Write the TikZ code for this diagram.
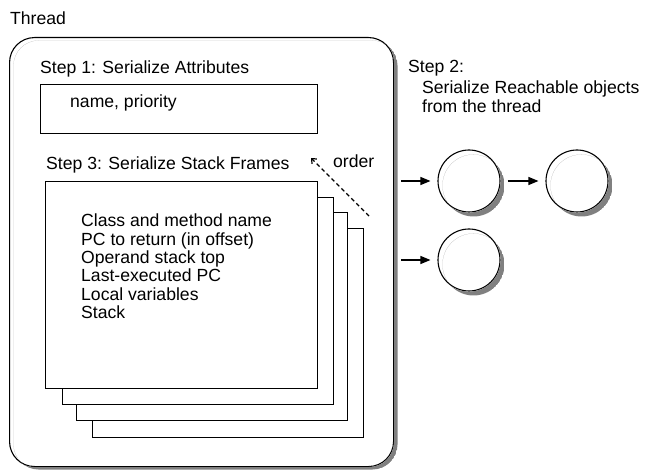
\documentclass[tikz,border=0pt]{standalone}
\usepackage{fontspec}
\setmainfont{Liberation Sans}
\usetikzlibrary{arrows.meta}
\definecolor{shadowgray}{gray}{0.5}
\begin{document}
\begin{tikzpicture}[x=1pt,y=-1pt,
  lbl/.style={anchor=base west,inner sep=0pt,font=\fontsize{17.6}{18.3}\selectfont},
  stackframe/.style={draw,fill=white,line width=1.1pt,anchor=north west,inner sep=0pt},
  obj/.style={circle,draw,fill=white,line width=1.1pt,minimum size=62pt,inner sep=0pt},
  arr/.style={-{Triangle[length=10pt,width=8pt]},line width=1.1pt},
  shadowpart/.style={fill=shadowgray,even odd rule}]
\useasboundingbox (0,0) rectangle (645,470);

% Thread container
\node[lbl] (threadlbl) at (10,25) {Thread};
\node[draw,fill=white,line width=1.1pt,rounded corners=25pt,minimum width=384pt,minimum height=429pt,
  anchor=north west,inner sep=0pt] (thread) at (9,37) {};

% Step 1
\node[lbl] (s1) at (40,74) {Step 1: Serialize Attributes};
\node[stackframe,minimum width=277pt,minimum height=49pt] (attr) at (40,84) {};
\node[lbl] (attrtxt) at (70,108) {name, priority};

% Step 3
\node[lbl] (s3) at (46,170) {Step 3: Serialize Stack Frames};
\node[stackframe,minimum width=271pt,minimum height=209pt] (f4) at (92,228) {};
\node[stackframe,minimum width=271pt,minimum height=208pt] (f3) at (76,212) {};
\node[stackframe,minimum width=271pt,minimum height=207pt] (f2) at (62,197) {};
\node[stackframe,minimum width=272pt,minimum height=207pt] (f1) at (45,181) {};
\foreach \t [count=\i from 0] in {Class and method name,PC to return (in offset),Operand stack top,Last-executed PC,Local variables,Stack}
  \node[lbl] (line\i) at (81,227+18.3*\i) {\t};

% order arrow
\node[lbl] (order) at (333,168) {order};
\coordinate (ordS) at (369,216);
\coordinate (ordE) at (311,158);
\draw[dash pattern=on 4pt off 3pt,line width=1.2pt,-{Straight Barb[length=4pt,width=7pt]}] (ordS) -- (ordE);

% Step 2
\node[lbl] (s2) at (408,73) {Step 2:};
\node[lbl] (s2b) at (422,94) {Serialize Reachable objects};
\node[lbl] (s2c) at (422,113) {from the thread};

% objects
\node[obj] (o1) at (469,181) {};
\node[obj] (o2) at (577,181) {};
\node[obj] (o3) at (469,260) {};
\coordinate (a1) at (401,181);
\coordinate (a3) at (401,260);
\draw[arr,shorten >=7pt] (a1) -- (o1);
\draw[arr,shorten >=7pt,shorten <=7pt] (o1) -- (o2);
\draw[arr,shorten >=7pt] (a3) -- (o3);

% shadows: shifted shape minus the shape, clipped to the shifted shape
\begin{scope}
  \clip[rounded corners=25pt] (13.5,40.5) rectangle (397.5,469.5);
  \path[shadowpart,rounded corners=25pt] (13.5,40.5) rectangle (397.5,469.5) (9,37) rectangle (394,467);
\end{scope}
\begin{scope}
  \clip (473.5,185.5) circle[radius=31];
  \path[shadowpart] (473.5,185.5) circle[radius=31] (469,181) circle[radius=31.6];
\end{scope}
\begin{scope}
  \clip (581.5,185.5) circle[radius=31];
  \path[shadowpart] (581.5,185.5) circle[radius=31] (577,181) circle[radius=31.6];
\end{scope}
\begin{scope}
  \clip (473.5,264.5) circle[radius=31];
  \path[shadowpart] (473.5,264.5) circle[radius=31] (469,260) circle[radius=31.6];
\end{scope}
\end{tikzpicture}
\end{document}
